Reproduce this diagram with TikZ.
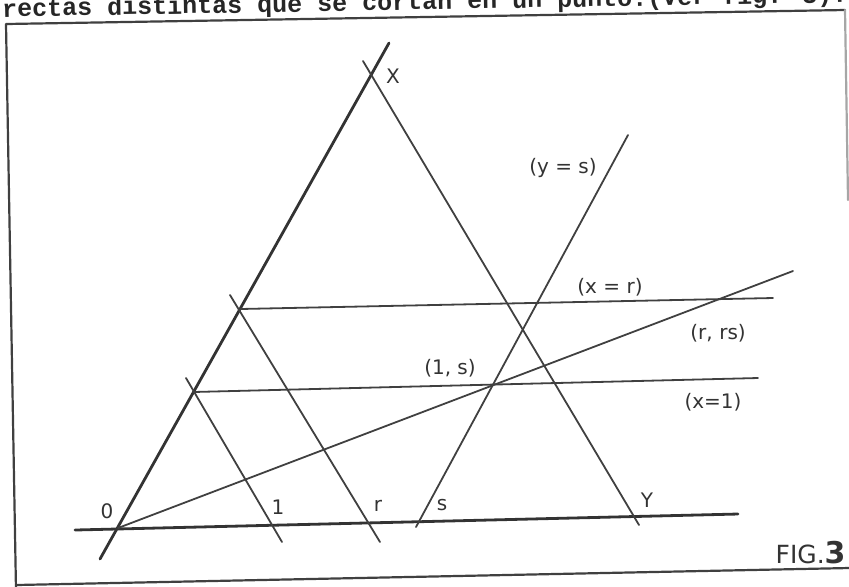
\documentclass[tikz,border=0pt]{standalone}
\usepackage{fontspec}
\setmainfont{DejaVu Sans}
\newfontfamily\typefont{Liberation Mono}
\begin{document}
\begin{tikzpicture}[x=0.5pt,y=-0.5pt,
  ink/.style={draw=black!75, line width=0.9pt, line cap=round},
  heavyink/.style={draw=black!80, line width=1.4pt, line cap=round},
  frameline/.style={draw=black!75, line width=1.1pt, line cap=round, line join=round},
  lbl/.style={font=\fontsize{10}{12}\selectfont, text=black!80, inner sep=0pt}]
\useasboundingbox (0,0) rectangle (849,586);
\begin{scope}
\clip (0,0) rectangle (849,586);
% scanned page heading
\node[anchor=base west, rotate=1, font=\typefont\bfseries\fontsize{12.5}{14}\selectfont,
      text=black!85, inner sep=0pt] (head) at (2,17)
      {rectas distintas que se cortan en un punto.(Ver fig. 3).};
% frame
\coordinate (fr1) at (16,590);
\coordinate (fr2) at (6,24);
\coordinate (fr3) at (845,10);
\coordinate (fr4) at (848,200);
\coordinate (fb1) at (16,585);
\coordinate (fb2) at (849,568);
\draw[frameline] (fr1) -- (fr2) -- (fr3);
\draw[frameline, draw=black!35] (fr3) -- (fr4);
\draw[frameline] (fb1) -- (fb2);
\end{scope}

% construction points
\coordinate (O) at (118,528);
\coordinate (X) at (372,73);
\coordinate (bl1) at (75,530);
\coordinate (bl2) at (738,514);
\coordinate (ox1) at (100,559);
\coordinate (ox2) at (389,43);
\coordinate (xy1) at (363,61);
\coordinate (xy2) at (639,525);
\coordinate (s1) at (628,135);
\coordinate (s2) at (416,527);
\coordinate (xr1) at (240,309);
\coordinate (xr2) at (773,298);
\coordinate (x11) at (193,392);
\coordinate (x12) at (758,378);
\coordinate (ol2) at (793,271);
\coordinate (r1) at (230,295);
\coordinate (r2) at (380,542);
\coordinate (u1) at (186,378);
\coordinate (u2) at (282,542);

% lines
\draw[heavyink] (bl1) -- (bl2);
\draw[heavyink] (ox1) -- (ox2);
\draw[ink] (xy1) -- (xy2);
\draw[ink] (s1) -- (s2);
\draw[ink] (xr1) -- (xr2);
\draw[ink] (x11) -- (x12);
\draw[ink] (O) -- (ol2);
\draw[ink] (r1) -- (r2);
\draw[ink] (u1) -- (u2);

% labels
\node[lbl] (lO) at (107,511) {0};
\node[lbl] (l1) at (278,507) {1};
\node[lbl] (lr) at (378,506) {r};
\node[lbl] (ls) at (442,505) {s};
\node[lbl] (lY) at (647,500) {Y};
\node[lbl] (lX) at (393,76) {X};
\node[lbl] (lys) at (563,168) {(y = s)};
\node[lbl] (lxr) at (610,287) {(x = r)};
\node[lbl] (lrrs) at (718,333) {(r,\,\,rs)};
\node[lbl] (l1s) at (450,368) {(1, s)};
\node[lbl] (lx1) at (713,402) {(x=1)};
\node[lbl, font=\fontsize{12.5}{15}\selectfont, anchor=base east] (fig) at (846,563)
  {FIG.\textbf{\fontsize{15}{16}\selectfont 3}};
\end{tikzpicture}
\end{document}
